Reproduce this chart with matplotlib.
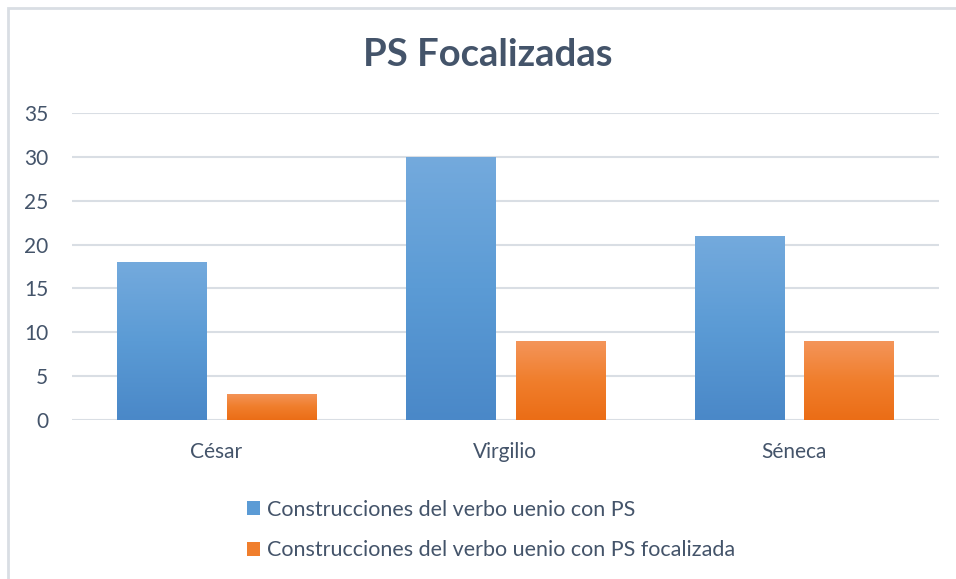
import numpy as np
import matplotlib.pyplot as plt
from matplotlib.patches import Patch, Rectangle
from matplotlib.colors import LinearSegmentedColormap

plt.rcParams['font.family'] = ['Lato', 'DejaVu Sans']

categories = ['César', 'Virgilio', 'Séneca']
series_names = ['Construcciones del verbo uenio con PS',
                'Construcciones del verbo uenio con PS focalizada']
ps_total = [18, 30, 21]
ps_focal = [3, 9, 9]

text_col = '#44546A'
grid_col = '#D9DEE4'
# gradient top -> bottom
blue_grad = ['#74AADD', '#5B9BD5', '#4A88C8']
orange_grad = ['#F4955A', '#F07E2C', '#EB6D16']

fig = plt.figure(figsize=(9.56, 5.79), dpi=100)
ax = fig.add_axes([0.0753, 0.2746, 0.9067, 0.5302])

x = np.arange(len(categories))
w = 0.31
off = 0.19

bars1 = ax.bar(x - off, ps_total, w, color='none')
bars2 = ax.bar(x + off, ps_focal, w, color='none')

# fill bars with a vertical gradient like Excel
def fill_gradient(bars, cols):
    cmap = LinearSegmentedColormap.from_list('g', cols[::-1])
    grad = np.linspace(0, 1, 256).reshape(-1, 1)
    for b in bars:
        x0, h, bw = b.get_x(), b.get_height(), b.get_width()
        im = ax.imshow(grad, cmap=cmap, origin='lower', aspect='auto',
                       extent=(x0, x0 + bw, 0, h), zorder=2)
        im.set_clip_path(b)

fill_gradient(bars1, blue_grad)
fill_gradient(bars2, orange_grad)

ax.set_xlim(-0.5, 2.5)
ax.set_ylim(0, 35)
ax.set_yticks(range(0, 36, 5))
ax.set_xticks(x)
ax.set_xticklabels(categories)
ax.yaxis.grid(True, color=grid_col, linewidth=1.5)
ax.set_axisbelow(True)
for s in ax.spines.values():
    s.set_visible(False)
ax.tick_params(axis='both', length=0, colors=text_col, labelsize=15)
ax.tick_params(axis='y', pad=17)
ax.tick_params(axis='x', pad=16)

fig.text(0.51, 0.905, 'PS Focalizadas', ha='center', va='center',
         fontsize=27.5, fontweight='bold', color=text_col)

handles = [Patch(facecolor=blue_grad[1]), Patch(facecolor=orange_grad[1])]
leg = fig.legend(handles, series_names, loc='upper left',
                 bbox_to_anchor=(0.238, 0.17), frameon=False,
                 fontsize=15.5, handlelength=0.63, handleheight=0.63,
                 handletextpad=0.3, labelspacing=0.95)
for t in leg.get_texts():
    t.set_color(text_col)

# chart border
fig.patches.append(Rectangle((8 / 956, -0.01), 1.0, 1 - 8 / 579 + 0.01,
                             transform=fig.transFigure, fill=False,
                             edgecolor=grid_col, linewidth=2))

fig.savefig('out.png', dpi=100)
